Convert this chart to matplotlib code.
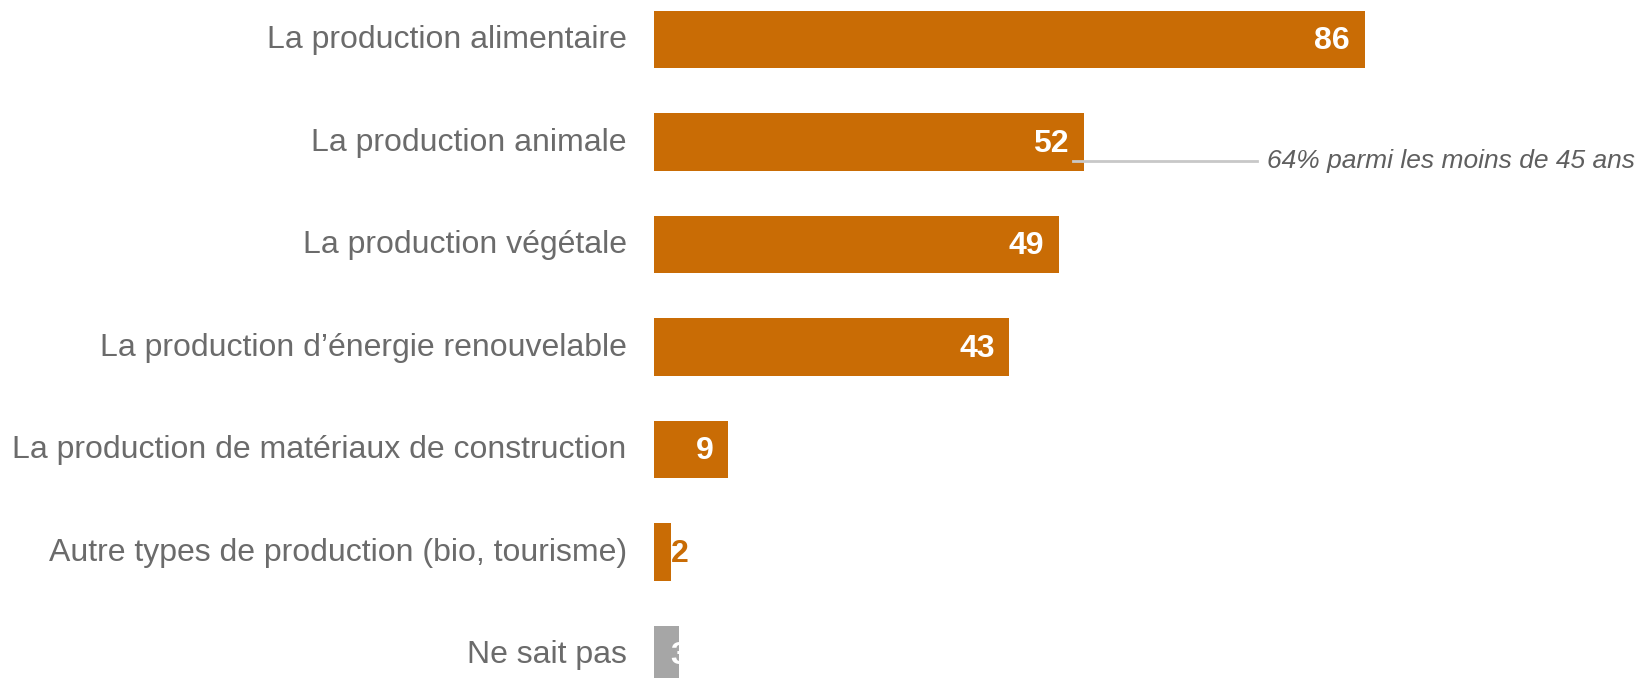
import matplotlib
matplotlib.use("Agg")
from matplotlib import pyplot as plt

# data
categories = [
    "La production alimentaire",
    "La production animale",
    "La production végétale",
    "La production d\u2019énergie renouvelable",
    "La production de matériaux de construction",
    "Autre types de production (bio, tourisme)",
    "Ne sait pas",
]
values = [86, 52, 49, 43, 9, 2, 3]
noteText = "64% parmi les moins de 45 ans"
noteIdx = 1

ORANGE = "#C96C05"
GREY = "#A6A6A6"
LABEL_COL = "#6B6B6B"

plt.rcParams['font.family'] = ['Liberation Sans', 'DejaVu Sans']

W, H = 1646, 678
fig = plt.figure(figsize=(W / 100, H / 100), dpi=100)
left = 654 / W
ax = fig.add_axes([left, 0, 1 - left, 1])

colors = [ORANGE] * (len(values) - 1) + [GREY]
ypos = list(range(len(values)))
ax.barh(ypos, values, height=0.56, color=colors)

ax.set_xlim(0, 120)
ax.set_ylim(6.231, -0.384)
ax.axis("off")

for i, v in enumerate(values):
    if v >= 5:
        ax.text(v - 1.8, i + 0.02, str(v), ha="right", va="center", color="white",
                fontsize=23, fontweight="bold")
    else:
        col = "white" if colors[i] == GREY else colors[i]
        ax.text(2.0, i + 0.02, str(v), ha="left", va="center", color=col,
                fontsize=23, fontweight="bold")
    # category label on the left
    ax.text(-3.3, i + 0.01, categories[i], ha="right", va="center", color=LABEL_COL,
            fontsize=23)

# annotation
yLine = noteIdx + 0.185
ax.plot([values[noteIdx] - 1.3, 73.0], [yLine, yLine], color="#C8C8C8", lw=2)
ax.text(74.2, yLine, noteText, ha="left", va="center", color="#5F5F5F",
        fontsize=19, style="italic")

fig.savefig("out.png", dpi=100)
